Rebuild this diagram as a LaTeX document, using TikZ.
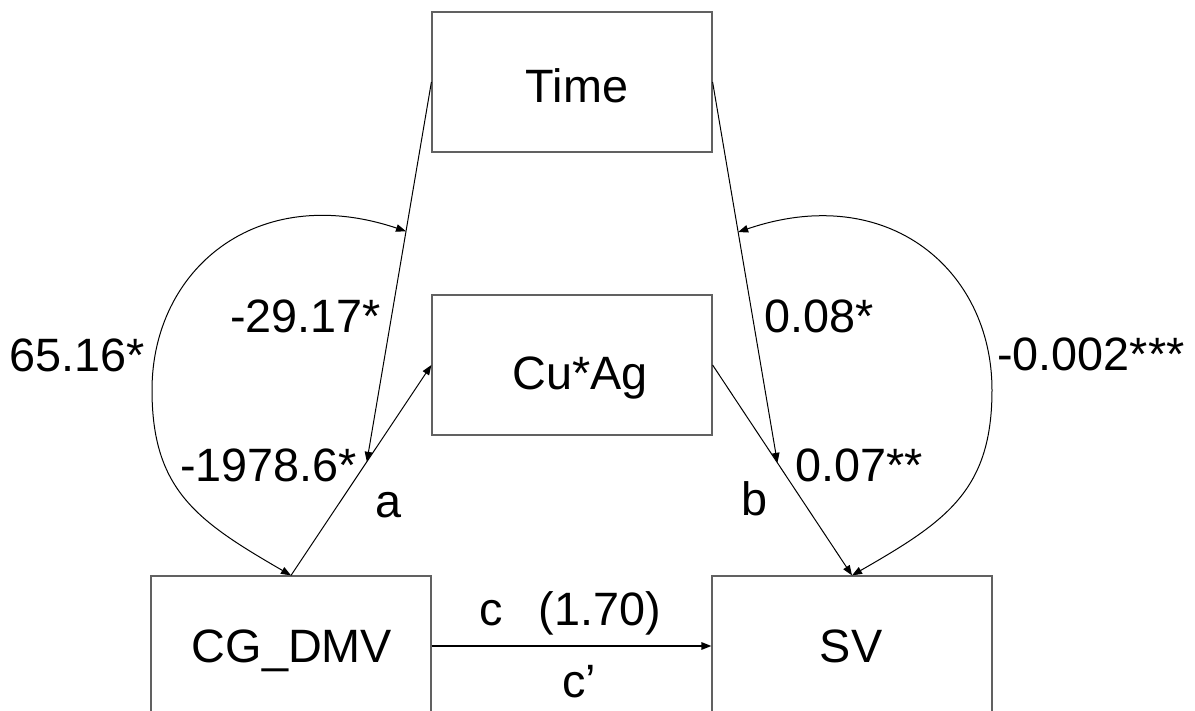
\documentclass[tikz,border=0pt]{standalone}
\usepackage{fontspec}
\setmainfont{Liberation Sans}
\usetikzlibrary{arrows.meta,calc}
\begin{document}
\begin{tikzpicture}[x=1pt,y=-1pt,
  box/.style={draw=black!62,line width=1.2pt,minimum width=280pt,minimum height=140pt,inner sep=0pt},
  lbl/.style={inner sep=0pt,font=\fontsize{46.8}{56}\selectfont},
  conn/.style={line width=1pt,-{Triangle[length=10pt,width=7.5pt]}},
  cov/.style={line width=1pt,{Triangle[length=10pt,width=7.5pt]}-{Triangle[length=10pt,width=7.5pt]}}]
\useasboundingbox (0,0) rectangle (1195,711);
\clip (0,0) rectangle (1195,711);
% boxes
\node[box] (Time) at (572,82) {};
\node[box] (Cu) at (572,365) {};
\node[box] (CG) at (291,646) {};
\node[box] (SV) at (852,646) {};
% box texts
\node[lbl,anchor=base] (tTime) at (577,103) {Time};
\node[lbl,anchor=base] (tCu) at (580,390) {Cu*Ag};
\node[lbl,anchor=base] (tCG) at (292,662) {CG\_DMV};
\node[lbl,anchor=base] (tSV) at (851,662) {SV};
% moderation points
\coordinate (modL) at ($(CG.north)!0.54!(Cu.west)$);
\coordinate (modR) at ($(Cu.east)!0.465!(SV.north)$);
\coordinate (cL) at ($(Time.west)!0.393!(modL)$);
\coordinate (cR) at ($(Time.east)!0.394!(modR)$);
% paths
\draw[conn] (CG.north) -- (Cu.west);
\draw[conn] (Cu.east) -- (SV.north);
\draw[conn] (Time.west) -- (modL);
\draw[conn] (Time.east) -- (modR);
\draw[conn,line width=1.6pt] (CG.east) -- (SV.west);
\draw[cov] (CG.north) .. controls (197,521) and (152,490) .. (152,390)
  .. controls (152,270) and (256,181) .. (cL);
\draw[cov] (SV.north) .. controls (947,521) and (992,490) .. (992,390)
  .. controls (992,270) and (888,181) .. (cR);
% labels
\node[lbl,anchor=base west] (l1) at (230,333) {-29.17*};
\node[lbl,anchor=base west] (l2) at (9,372) {65.16*};
\node[lbl,anchor=base west] (l3) at (180,482) {-1978.6*};
\node[lbl,anchor=base] (la) at (389,517) {a};
\node[lbl,anchor=base] (lb) at (755,515) {b};
\node[lbl,anchor=base west] (l4) at (795,482) {0.07**};
\node[lbl,anchor=base west] (l5) at (764,333) {0.08*};
\node[lbl,anchor=base west] (l6) at (997,371) {-0.002***};
\node[lbl,anchor=base west] (lc) at (479,625) {c\hspace{36pt}(1.70)};
\node[lbl,anchor=base] (lcp) at (579,697) {c’};
\end{tikzpicture}
\end{document}
